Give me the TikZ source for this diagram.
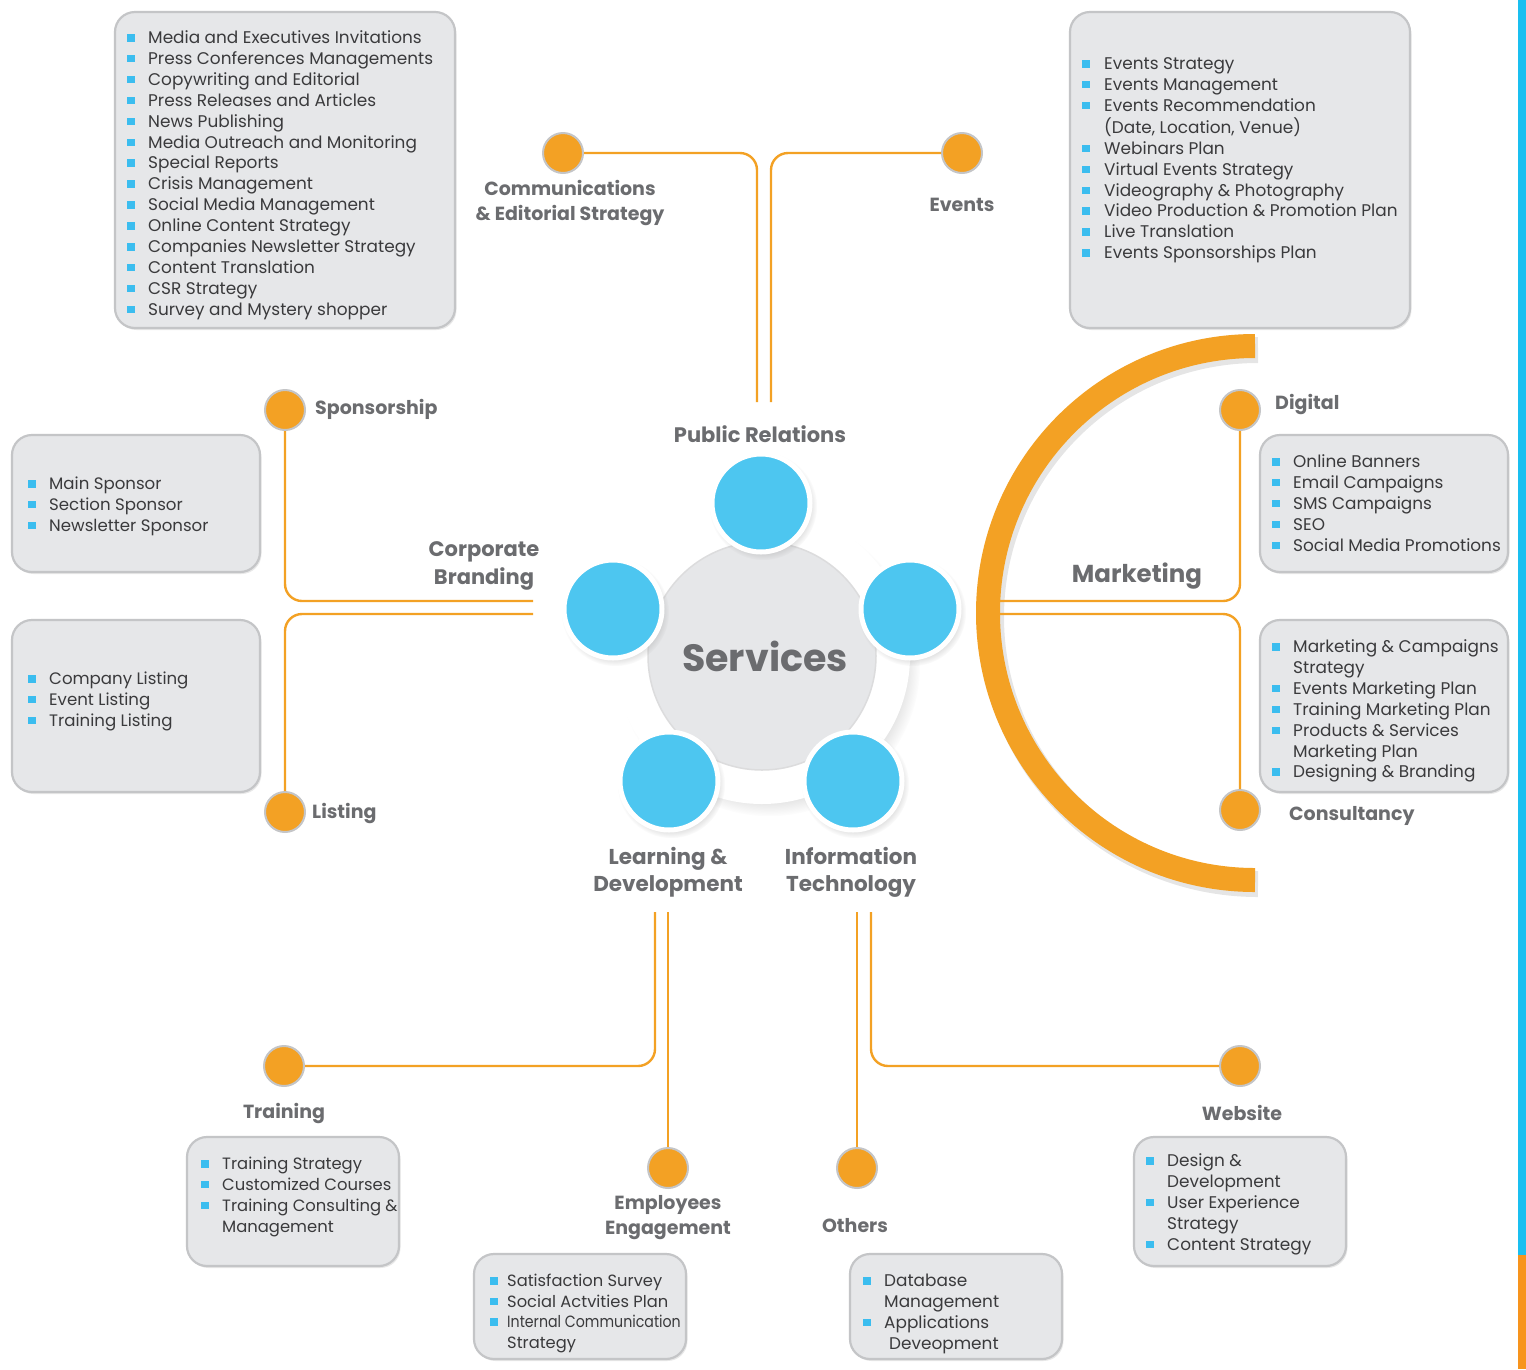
\documentclass[tikz,border=0pt]{standalone}
\usepackage{fontspec}
\usepackage{graphicx}
\setmainfont{Poppins}
\usetikzlibrary{shadows}
\definecolor{org}{HTML}{F3A124}
\definecolor{blu}{HTML}{4DC6F0}
\definecolor{bulc}{HTML}{3BBDEF}
\definecolor{boxf}{HTML}{E6E7E9}
\definecolor{boxd}{HTML}{C4C5C7}
\definecolor{lbl}{HTML}{6B6C6F}
\definecolor{itc}{HTML}{3A3A3C}
\definecolor{edgeb}{HTML}{1ABFF0}
\definecolor{edgeo}{HTML}{F7941D}
\newlength\bw \setlength\bw{21pt}
\newcommand\bul{\makebox[\bw][l]{\textcolor{bulc}{\rule[2pt]{7.5pt}{7.5pt}}}}
\newcommand\ind{\hspace*{\bw}}
\tikzset{
 itembox/.style={draw=boxd, line width=2.2pt, fill=boxf, rounded corners=20pt, inner sep=0pt,
   drop shadow={opacity=0.18, shadow xshift=1.5pt, shadow yshift=-2pt}},
 itemtext/.style={anchor=base west, inner sep=0pt, text=itc, font=\fontsize{16.9}{20.9}\selectfont},
 dot/.style={circle, fill=org, draw=boxd, line width=2pt, minimum size=40pt, inner sep=0pt},
 conn/.style={draw=org, line width=2.4pt, rounded corners=17pt},
 lab/.style={text=lbl, font=\bfseries\fontsize{19}{25}\selectfont, inner sep=0pt, align=center},
 bigc/.style={circle, fill=blu, draw=white, line width=5pt, minimum size=98pt, inner sep=0pt,
   circular drop shadow={opacity=0.25, shadow xshift=2pt, shadow yshift=-3pt}},
}
\begin{document}
\begin{tikzpicture}[x=1pt,y=-1pt]
\useasboundingbox (0,0) rectangle (1526,1369);
\fill[white] (0,0) rectangle (1526,1369);
% right edge bars
\fill[edgeb] (1518,0) rectangle (1526,1255);
\fill[edgeo] (1518,1255) rectangle (1526,1369);

% boxes
\node[itembox, minimum width=340pt, minimum height=316pt] (prbox) at (285,170) {};
\node[itembox, minimum width=340pt, minimum height=316pt] (evbox) at (1240,170) {};
\node[itembox, minimum width=248pt, minimum height=137pt] (spbox) at (136,503.5) {};
\node[itembox, minimum width=248pt, minimum height=172pt] (lsbox) at (136,706) {};
\node[itembox, minimum width=248pt, minimum height=137pt] (dgbox) at (1384,503.5) {};
\node[itembox, minimum width=248pt, minimum height=172pt] (csbox) at (1384,706) {};
\node[itembox, minimum width=212pt, minimum height=129pt] (trbox) at (293,1201.5) {};
\node[itembox, minimum width=212pt, minimum height=105pt] (embox) at (580,1306.5) {};
\node[itembox, minimum width=212pt, minimum height=105pt] (otbox) at (956,1306.5) {};
\node[itembox, minimum width=212pt, minimum height=129pt] (wsbox) at (1240,1201.5) {};

% box texts
\node[itemtext] (prtxt) at (127,43.5) {\begin{tabular}[t]{@{}l@{}}
\bul Media and Executives Invitations\\
\bul Press Conferences Managements\\
\bul Copywriting and Editorial\\
\bul Press Releases and Articles\\
\bul News Publishing\\
\bul Media Outreach and Monitoring\\
\bul Special Reports\\
\bul Crisis Management\\
\bul Social Media Management\\
\bul Online Content Strategy\\
\bul Companies Newsletter Strategy\\
\bul Content Translation\\
\bul CSR Strategy\\
\bul Survey and Mystery shopper\end{tabular}};
\node[itemtext] (evtxt) at (1082,69.5) {\setlength\bw{22pt}\begin{tabular}[t]{@{}l@{}}
\bul Events Strategy\\
\bul Events Management\\
\bul Events Recommendation\\
\ind (Date, Location, Venue)\\
\bul Webinars Plan\\
\bul Virtual Events Strategy\\
\bul Videography \& Photography\\
\bul Video Production \& Promotion Plan\\
\bul Live Translation\\
\bul Events Sponsorships Plan\end{tabular}};
\node[itemtext, font=\fontsize{16.6}{20.9}\selectfont] (sptxt) at (28,489.5) {\begin{tabular}[t]{@{}l@{}}
\bul Main Sponsor\\
\bul Section Sponsor\\
\bul Newsletter Sponsor\end{tabular}};
\node[itemtext, font=\fontsize{16.6}{20.9}\selectfont] (lstxt) at (28,684.5) {\begin{tabular}[t]{@{}l@{}}
\bul Company Listing\\
\bul Event Listing\\
\bul Training Listing\end{tabular}};
\node[itemtext] (dgtxt) at (1272,467.5) {\begin{tabular}[t]{@{}l@{}}
\bul Online Banners\\
\bul Email Campaigns\\
\bul SMS Campaigns\\
\bul SEO\\
\bul Social Media Promotions\end{tabular}};
\node[itemtext] (cstxt) at (1272,652.5) {\begin{tabular}[t]{@{}l@{}}
\bul Marketing \& Campaigns\\
\ind Strategy\\
\bul Events Marketing Plan\\
\bul Training Marketing Plan\\
\bul Products \& Services\\
\ind Marketing Plan\\
\bul Designing \& Branding\end{tabular}};
\node[itemtext, font=\fontsize{16.4}{20.9}\selectfont] (trtxt) at (201,1169.5) {\begin{tabular}[t]{@{}l@{}}
\bul Training Strategy\\
\bul Customized Courses\\
\bul Training Consulting \&\\
\ind Management\end{tabular}};
\node[itemtext, font=\fontsize{16.3}{20.7}\selectfont] (emtxt) at (490,1286.5) {\setlength\bw{17pt}\begin{tabular}[t]{@{}l@{}}
\bul Satisfaction Survey\\
\bul Social Actvities Plan\\
\bul \scalebox{0.87}[1]{Internal Communication}\\
\ind Strategy\end{tabular}};
\node[itemtext] (ottxt) at (863,1286.5) {\begin{tabular}[t]{@{}l@{}}
\bul Database\\
\ind Management\\
\bul Applications\\
\ind\hspace*{5pt}Deveopment\end{tabular}};
\node[itemtext] (wstxt) at (1146,1166.5) {\begin{tabular}[t]{@{}l@{}}
\bul Design \&\\
\ind Development\\
\bul User Experience\\
\ind Strategy\\
\bul Content Strategy\end{tabular}};

% Marketing arc
\draw[black, opacity=0.10, line width=26pt] (1258,350) arc[start angle=270, end angle=90, radius=267];
\draw[org, line width=24pt] (1255,346) arc[start angle=270, end angle=90, radius=267];

% centre
\node[circle, fill=white, minimum size=296pt, inner sep=0pt,
  circular drop shadow={opacity=0.3, shadow xshift=7pt, shadow yshift=-9pt, shadow scale=1.02}] (ring) at (762,656) {};
\node[circle, fill=boxf, draw=boxd!60, line width=1.5pt, minimum size=228pt, inner sep=0pt] (core) at (762,656) {};
\node[text=lbl, font=\bfseries\fontsize{38}{38}\selectfont, inner sep=0pt] (svc) at (765,656) {Services};
\node[bigc] (bpr) at (761,503) {};
\node[bigc] (bcb) at (613,609) {};
\node[bigc] (bmk) at (910,609) {};
\node[bigc] (bld) at (669,781) {};
\node[bigc] (bit) at (853,781) {};

% dots
\node[dot] (comm) at (563,153) {};
\node[dot] (events) at (962,153) {};
\node[dot] (spon) at (285,410) {};
\node[dot] (listing) at (285,812) {};
\node[dot] (digital) at (1240,410) {};
\node[dot] (consult) at (1240,810) {};
\node[dot] (training) at (284,1066) {};
\node[dot] (employees) at (668,1168) {};
\node[dot] (others) at (857,1168) {};
\node[dot] (website) at (1240,1066) {};

% connector free ends
\coordinate (prA) at (757,402);
\coordinate (prB) at (771,402);
\coordinate (cbA) at (533,601);
\coordinate (cbB) at (533,614);
\coordinate (mkA) at (1000,601);
\coordinate (mkB) at (1000,614);
\coordinate (ldA) at (655,912);
\coordinate (ldB) at (668,912);
\coordinate (itA) at (857,912);
\coordinate (itB) at (871,912);

\draw[conn] (prA) |- (comm);
\draw[conn] (prB) |- (events);
\draw[conn] (cbA) -| (spon);
\draw[conn] (cbB) -| (listing);
\draw[conn] (mkA) -| (digital);
\draw[conn] (mkB) -| (consult);
\draw[conn] (ldA) |- (training);
\draw[conn] (ldB) -- (employees);
\draw[conn] (itA) -- (others);
\draw[conn] (itB) |- (website);

% labels
\node[lab] (lcomm) at (570,203) {Communications\\\& Editorial Strategy};
\node[lab] (lev) at (962,205) {Events};
\node[lab, font=\bfseries\fontsize{21}{25}\selectfont] (lpr) at (760,434) {Public Relations};
\node[lab, anchor=west] (lsp) at (315,409) {Sponsorship};
\node[lab, font=\bfseries\fontsize{21}{28}\selectfont] (lcb) at (484,566) {Corporate\\Branding};
\node[lab, anchor=west] (lls) at (312,813) {Listing};
\node[lab, anchor=west] (ldg) at (1275,404) {Digital};
\node[lab, font=\bfseries\fontsize{24.5}{30}\selectfont] (lmk) at (1137,576) {Marketing};
\node[lab, anchor=west] (lcs) at (1289,816) {Consultancy};
\node[lab, font=\bfseries\fontsize{21.5}{27}\selectfont] (lld) at (668,872.5) {Learning \&\\Development};
\node[lab, font=\bfseries\fontsize{21.5}{27}\selectfont] (lit) at (851,872.5) {Information\\Technology};
\node[lab] (ltr) at (284,1113) {Training};
\node[lab] (lem) at (668,1218) {Employees\\Engagement};
\node[lab] (lot) at (855,1226) {Others};
\node[lab] (lws) at (1242,1113) {Website};
\end{tikzpicture}
\end{document}
